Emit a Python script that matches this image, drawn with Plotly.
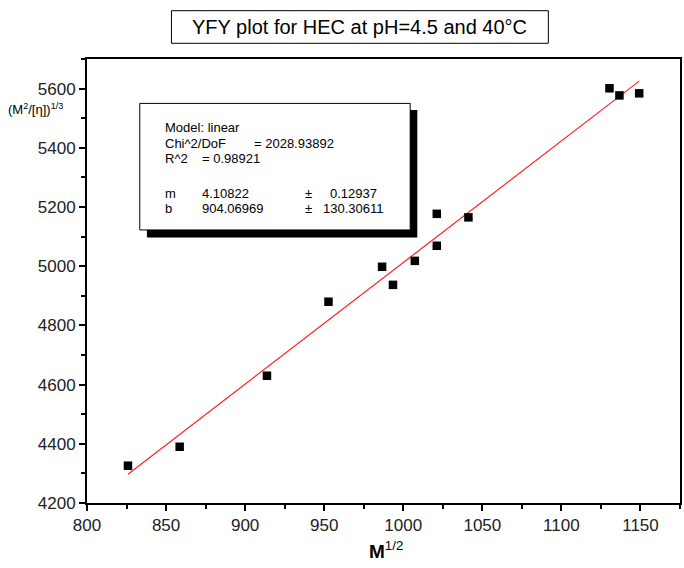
import plotly.graph_objects as go

# data
m_half = [825.9, 858.6, 913.8, 952.7, 986.6, 993.5, 1007.3, 1021.2, 1021.2, 1041.2, 1130.4, 1136.7, 1149.2]
yfy = [4326, 4390, 4630, 4880, 4998, 4937, 5018, 5177, 5069, 5165, 5601, 5577, 5584]
slope = 4.10822
intercept = 904.06969
x_ticks = [800, 850, 900, 950, 1000, 1050, 1100, 1150]
y_ticks = [4200, 4400, 4600, 4800, 5000, 5200, 5400, 5600]

fit_x = [min(m_half), max(m_half)]
fit_y = [intercept + slope * v for v in fit_x]

FONT = "Liberation Sans, Arial, sans-serif"

fig = go.Figure()
fig.add_trace(go.Scatter(x=fit_x, y=fit_y, mode="lines",
                         line=dict(color="#ff2020", width=1.2), showlegend=False))
fig.add_trace(go.Scatter(x=m_half, y=yfy, mode="markers",
                         marker=dict(symbol="square", size=8.5, color="black"),
                         showlegend=False))

axis_common = dict(showline=True, linecolor="black", linewidth=2, mirror=True,
                   ticks="outside", ticklen=6, tickwidth=2, tickcolor="black",
                   showgrid=False, zeroline=False,
                   tickfont=dict(family=FONT, size=17, color="#222"))

fig.update_xaxes(range=[800, 1175], tickvals=x_ticks,
                 minor=dict(ticks="outside", ticklen=4, tickwidth=2, tickcolor="black", dtick=25),
                 **axis_common)
fig.update_yaxes(range=[4200, 5700], tickvals=y_ticks,
                 minor=dict(ticks="outside", ticklen=4, tickwidth=2, tickcolor="black", dtick=100),
                 **axis_common)

shapes = [
    # title box
    dict(type="rect", xref="paper", yref="paper", x0=0.1424, x1=0.778, y0=1.0354, y1=1.1088,
         line=dict(color="black", width=1), fillcolor="white"),
    # stats box shadow
    dict(type="rect", xref="paper", yref="paper", x0=0.101, x1=0.557, y0=0.598, y1=0.885,
         line=dict(width=0), fillcolor="black"),
    # stats box
    dict(type="rect", xref="paper", yref="paper", x0=0.089, x1=0.545, y0=0.615, y1=0.900,
         line=dict(color="black", width=1), fillcolor="white"),
]

def px(x):
    return (x - 87) / 595

def py(y):
    return (503 - y) / 444

ann = []
ann.append(dict(text="YFY plot for HEC at pH=4.5 and 40°C", x=0.460, y=py(27), xref="paper", yref="paper",
                showarrow=False, xanchor="center", yanchor="middle",
                font=dict(family=FONT, size=20, color="black")))
stats = [
    ("Model: linear", 163, 128),
    ("Chi^2/DoF", 163, 143),
    ("= 2028.93892", 253, 143),
    ("R^2", 163, 158),
    ("= 0.98921", 200, 158),
    ("m", 163, 193),
    ("4.10822", 200, 193),
    ("±", 304, 193),
    ("0.12937", 329, 193),
    ("b", 163, 208),
    ("904.06969", 200, 208),
    ("±", 304, 208),
    ("130.30611", 322, 208),
]
for t, x, y in stats:
    ann.append(dict(text=t, x=px(x), y=py(y), xref="paper", yref="paper", showarrow=False,
                    xanchor="left", yanchor="middle",
                    font=dict(family=FONT, size=13, color="black")))
ann.append(dict(text="(M<sup>2</sup>/[η])<sup>1/3</sup>", x=px(6), y=py(109), xref="paper", yref="paper",
                showarrow=False, xanchor="left", yanchor="middle",
                font=dict(family=FONT, size=13, color="black")))
ann.append(dict(text="<b>M</b><sup>1/2</sup>", x=px(387), y=py(550), xref="paper", yref="paper",
                showarrow=False, xanchor="center", yanchor="middle",
                font=dict(family=FONT, size=19, color="black")))

fig.update_layout(width=684, height=568, margin=dict(l=87, r=2, t=59, b=65),
                  paper_bgcolor="white", plot_bgcolor="white",
                  shapes=shapes, annotations=ann, font=dict(family=FONT))

fig.write_html("out.html")
